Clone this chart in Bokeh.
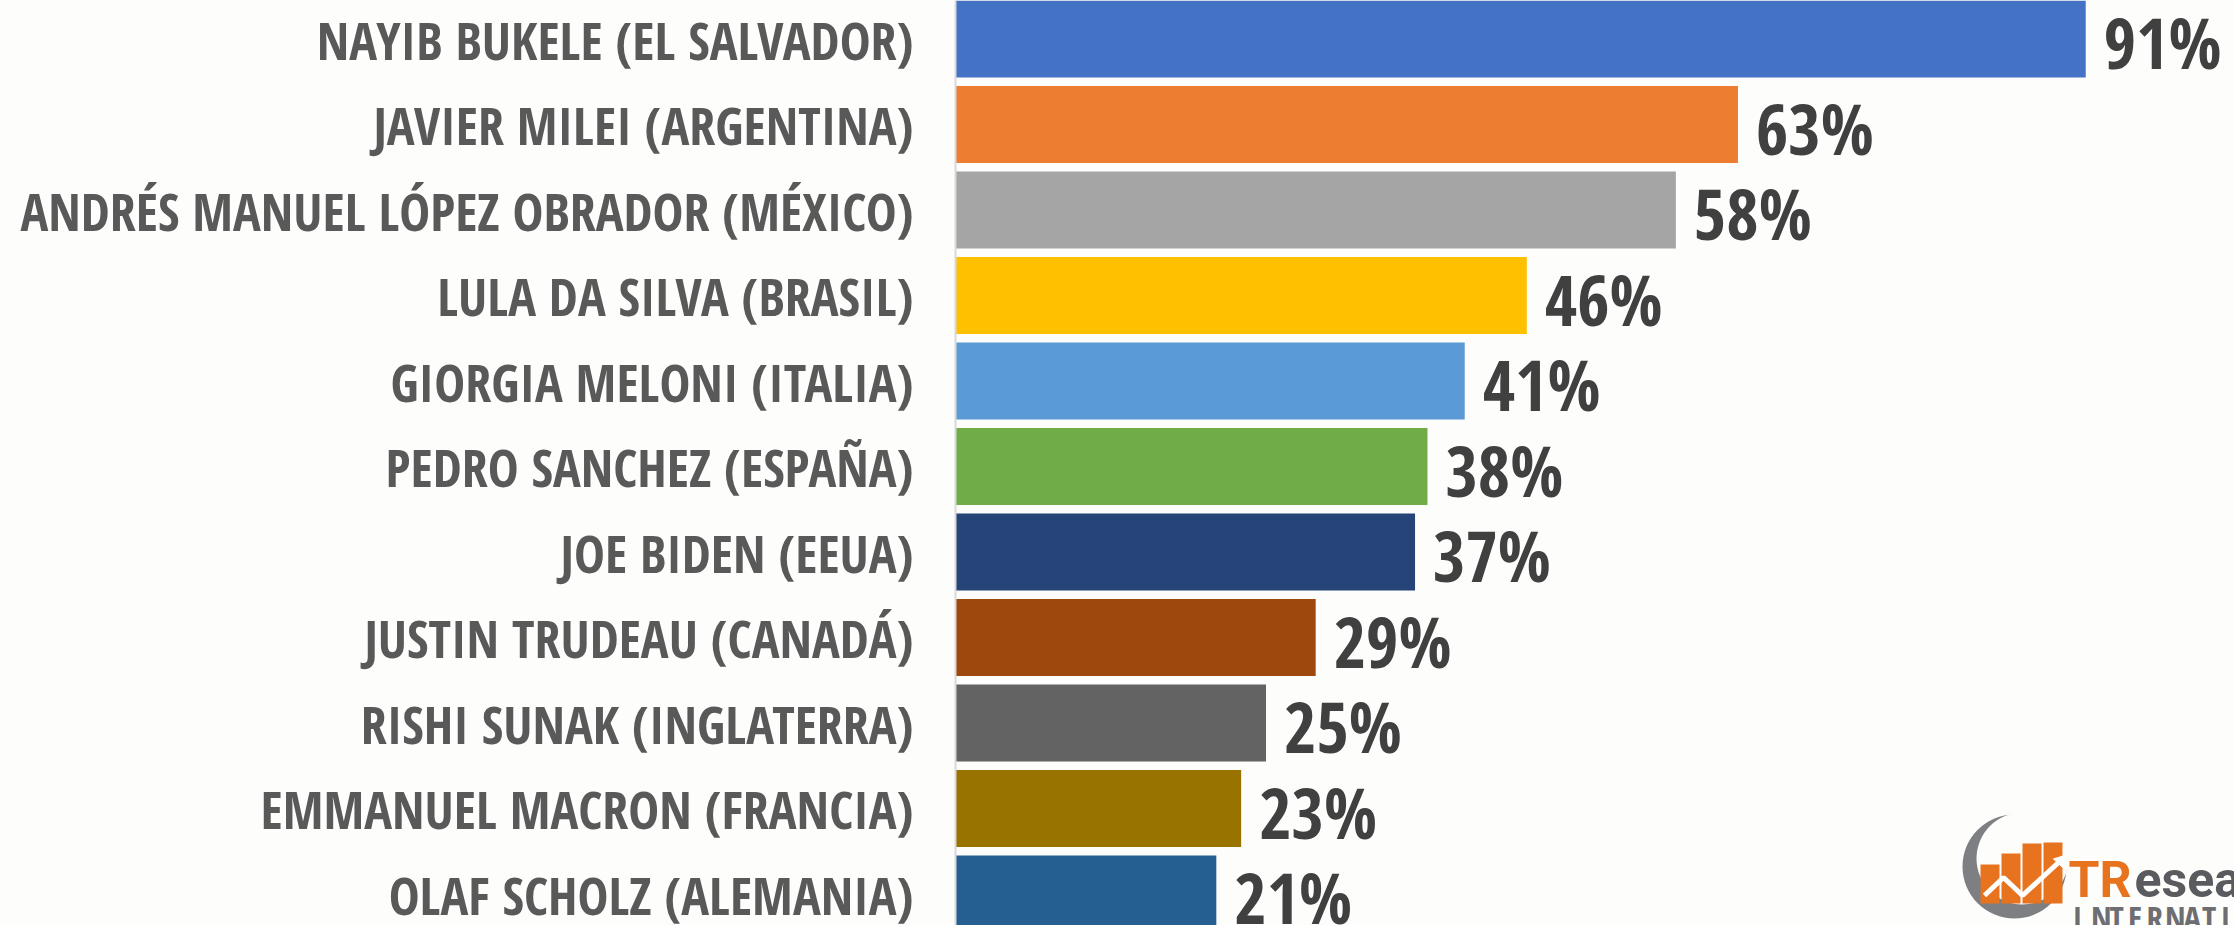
from bokeh.plotting import figure
from bokeh.models import Range1d, Span, ColumnDataSource
from bokeh.core.properties import value
from bokeh.embed import file_html
from bokeh.resources import INLINE

names = ["NAYIB BUKELE (EL SALVADOR)", "JAVIER MILEI (ARGENTINA)",
         "ANDRÉS MANUEL LÓPEZ OBRADOR (MÉXICO)", "LULA DA SILVA (BRASIL)",
         "GIORGIA MELONI (ITALIA)", "PEDRO SANCHEZ (ESPAÑA)", "JOE BIDEN (EEUA)",
         "JUSTIN TRUDEAU (CANADÁ)", "RISHI SUNAK (INGLATERRA)",
         "EMMANUEL MACRON (FRANCIA)", "OLAF SCHOLZ (ALEMANIA)"]
values = [91, 63, 58, 46, 41, 38, 37, 29, 25, 23, 21]
colors = ["#4472C4", "#ED7D31", "#A5A5A5", "#FFC000", "#5B9BD5", "#70AD47",
          "#264478", "#9E480E", "#636363", "#997300", "#255E91"]
value_labels = [f"{v}%" for v in values]

W, H = 2234, 925
X0 = 955.0          # pixel of x=0
PPU = 12.42         # pixels per percent
Y0 = 38.5           # pixel of first bar centre
PITCH = 85.5        # pixels between bars
BG = "#fdfdfc"
FONT = value("Open Sans Condensed")

p = figure(width=W, height=H, output_backend="svg", toolbar_location=None,
           x_range=Range1d(-X0 / PPU, (W - X0) / PPU),
           y_range=Range1d((H - Y0) / PITCH, -Y0 / PITCH),
           min_border=0, background_fill_color=BG, border_fill_color=BG,
           outline_line_color=None)
p.xaxis.visible = False
p.yaxis.visible = False
p.grid.visible = False

ypos = list(range(len(names)))
src = ColumnDataSource(dict(y=ypos, v=values, c=colors, n=names, t=value_labels))

p.hbar(y="y", left=0, right="v", height=0.9, fill_color="c", line_color=None, source=src)
p.add_layout(Span(location=0, dimension="height", line_color="#d9d9d9", line_width=2))

p.text(x=0, y="y", text="n", source=src, text_font=FONT,
       text_font_style="bold", text_font_size="52px", text_color="#595959",
       text_align="right", text_baseline="middle", x_offset=-42)
p.text(x="v", y="y", text="t", source=src, text_font=FONT,
       text_font_style="bold", text_font_size="70px", text_color="#404040",
       text_align="left", text_baseline="middle", x_offset=18, y_offset=3)

# ---- logo (decoration) ----
def dx(px):
    return (px - X0) / PPU

def dy(py):
    return (py - Y0) / PITCH

p.scatter([dx(2014)], [dy(866)], marker="circle", size=104, fill_color="#7d7f82", line_color=None)
p.scatter([dx(2022)], [dy(858)], marker="circle", size=92, fill_color=BG, line_color=None)
bl = [1980, 2001, 2022, 2043]
bt = [864, 853, 843, 842]
p.quad(left=[dx(b) for b in bl], right=[dx(b + 19) for b in bl],
       top=[dy(t) for t in bt], bottom=[dy(903)] * 4,
       fill_color="#E8731E", line_color=None)
p.line([dx(1984), dx(2003), dx(2022), dx(2058)], [dy(895), dy(877), dy(895), dy(862)],
       line_color="white", line_width=5)
p.scatter([dx(2060)], [dy(860)], marker="triangle", angle=-0.75, size=14,
          fill_color="white", line_color=None)
p.text([dx(2068)], [dy(879)], text=["TR"], text_font=value("Roboto"), text_font_style="bold",
       text_font_size="50px", text_color="#E8731E", text_baseline="alphabetic")
p.text([dx(2134)], [dy(879)], text=["esearch"], text_font=value("Roboto"), text_font_style="bold",
       text_font_size="50px", text_color="#5a5b5e", text_baseline="alphabetic")
letters = list("INTERNATIONAL")
p.text([dx(2072 + 18.5 * i) for i in range(len(letters))], [dy(917)] * len(letters),
       text=letters, text_font=FONT, text_font_size="33px",
       text_color="#6d6e71", text_baseline="alphabetic")

open("out.html", "w").write(file_html(p, INLINE))
